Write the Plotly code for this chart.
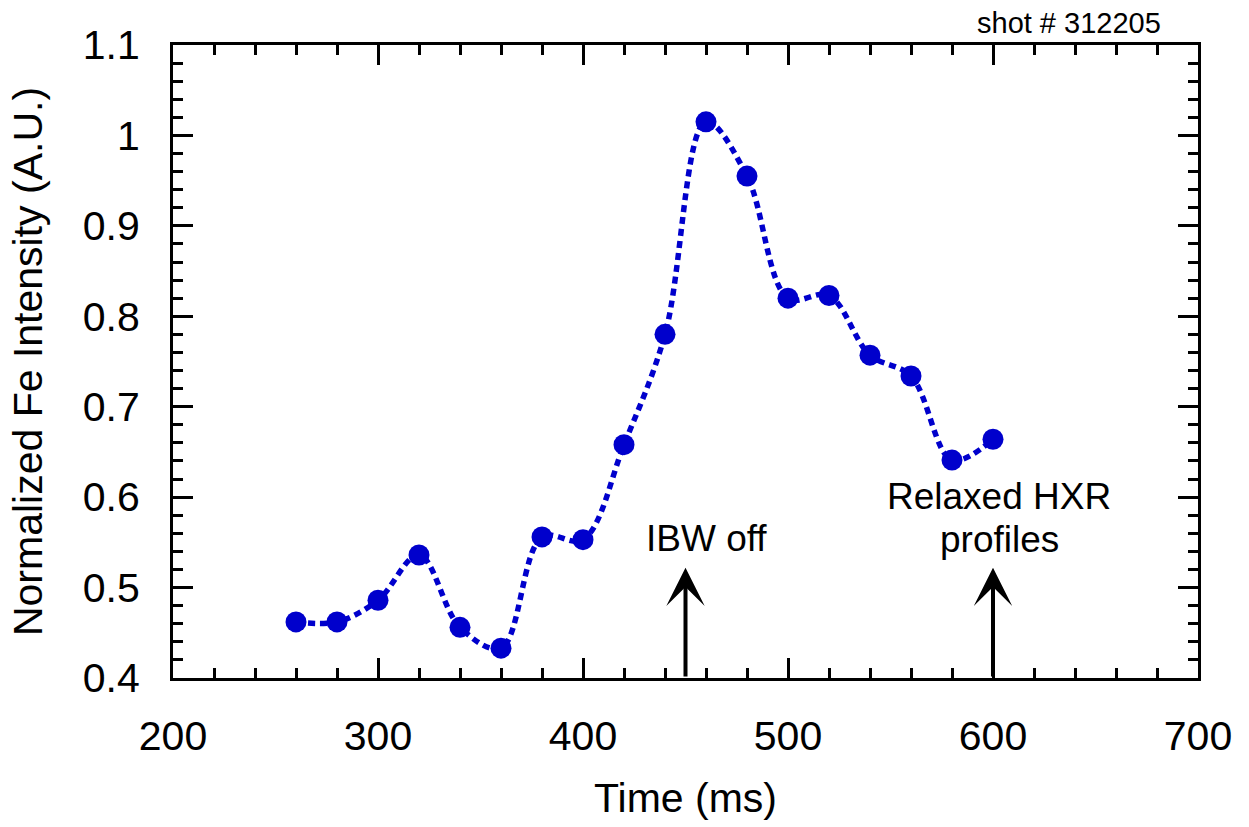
import plotly.graph_objects as go

time_ms = [260, 280, 300, 320, 340, 360, 380, 400, 420, 440, 460, 480, 500, 520, 540, 560, 580, 600]
fe_intensity = [0.462, 0.462, 0.486, 0.536, 0.456, 0.433, 0.556, 0.553, 0.658, 0.780,
                1.015, 0.955, 0.820, 0.823, 0.757, 0.734, 0.641, 0.664]

x_ticks = [200, 300, 400, 500, 600, 700]
y_ticks = [0.4, 0.5, 0.6, 0.7, 0.8, 0.9, 1.0, 1.1]
y_ticktext = ["0.4", "0.5", "0.6", "0.7", "0.8", "0.9", "1", "1.1"]

ibw_off_time = 450
relaxed_time = 600
arrow_tip = 0.522

BLUE = "#0000cc"
FONT = "Liberation Sans, Arial, sans-serif"

fig = go.Figure()
fig.add_trace(go.Scatter(
    x=time_ms, y=fe_intensity, mode="lines",
    line=dict(color=BLUE, width=5.5, dash="7px,5px", shape="spline", smoothing=1.0),
    showlegend=False, hoverinfo="skip"))
fig.add_trace(go.Scatter(
    x=time_ms, y=fe_intensity, mode="markers",
    marker=dict(color=BLUE, size=21, line=dict(width=0)),
    showlegend=False))

axis_common = dict(
    showline=True, linecolor="black", linewidth=3, mirror="ticks",
    ticks="inside", ticklen=20, tickwidth=3, tickcolor="black",
    showgrid=False, zeroline=False,
    tickfont=dict(family=FONT, size=41, color="black"),
)

fig.update_xaxes(
    range=[200, 700], tickvals=x_ticks, ticktext=[str(v) for v in x_ticks],
    minor=dict(dtick=20, tick0=200, ticks="inside", ticklen=10, tickwidth=3, tickcolor="black"),
    title=dict(text="Time (ms)", font=dict(family=FONT, size=41, color="black"), standoff=26),
    ticklabelstandoff=20,
    **axis_common)
fig.update_yaxes(
    range=[0.4, 1.1], tickvals=y_ticks, ticktext=y_ticktext,
    minor=dict(dtick=0.02, tick0=0.4, ticks="inside", ticklen=10, tickwidth=3, tickcolor="black"),
    title=dict(text="Normalized Fe Intensity (A.U.)", font=dict(family=FONT, size=41, color="black"), standoff=28),
    ticklabelstandoff=22,
    **axis_common)

for t in (ibw_off_time, relaxed_time):
    fig.add_annotation(x=t, y=arrow_tip, ax=t, ay=0.4, xref="x", yref="y", axref="x", ayref="y",
                       text="", showarrow=True, arrowhead=3, arrowwidth=4, arrowsize=1.6,
                       arrowcolor="black")

ann_font = dict(family=FONT, size=37, color="black")
fig.add_annotation(x=ibw_off_time + 10, y=0.554, xref="x", yref="y", text="IBW off",
                   showarrow=False, font=ann_font)
fig.add_annotation(x=relaxed_time + 3, y=0.601, xref="x", yref="y", text="Relaxed HXR",
                   showarrow=False, font=ann_font)
fig.add_annotation(x=relaxed_time + 3, y=0.553, xref="x", yref="y", text="profiles",
                   showarrow=False, font=ann_font)
fig.add_annotation(x=(1069 - 173) / (1249 - 173 - 51), y=1 + (45 - 23) / (827 - 45 - 149),
                   xref="paper", yref="paper", xanchor="center", yanchor="middle",
                   text="shot # 312205", showarrow=False,
                   font=dict(family=FONT, size=29, color="black"))

fig.update_layout(
    width=1249, height=827,
    margin=dict(l=173, r=51, t=45, b=149),
    paper_bgcolor="white", plot_bgcolor="white",
)

fig.write_html("out.html")
